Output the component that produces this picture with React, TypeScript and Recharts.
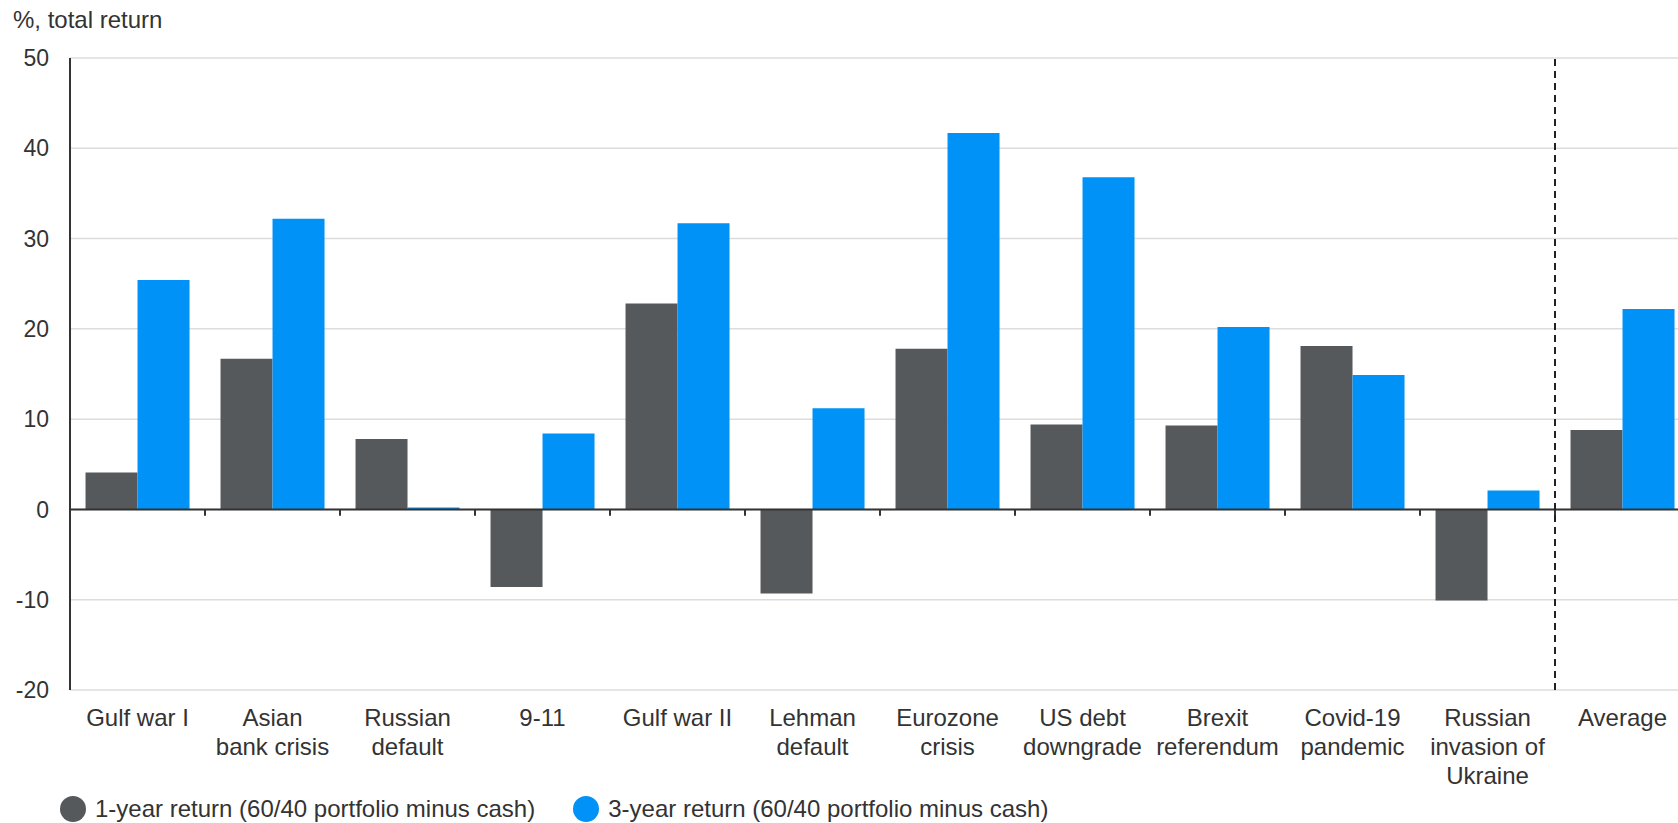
import { BarChart, Bar, XAxis, YAxis, CartesianGrid, ReferenceLine, Legend } from 'recharts';

const FONT = '"Liberation Sans", Arial, sans-serif';
const GRAY = '#56595c';
const BLUE = '#0092f6';

const categories = [
  'Gulf war I',
  'Asian\nbank crisis',
  'Russian\ndefault',
  '9-11',
  'Gulf war II',
  'Lehman\ndefault',
  'Eurozone\ncrisis',
  'US debt\ndowngrade',
  'Brexit\nreferendum',
  'Covid-19\npandemic',
  'Russian\ninvasion of\nUkraine',
  'Average',
];
const oneYear = [4.1, 16.7, 7.8, -8.6, 22.8, -9.3, 17.8, 9.4, 9.3, 18.1, -10.1, 8.8];
const threeYear = [25.4, 32.2, 0.2, 8.4, 31.7, 11.2, 41.7, 36.8, 20.2, 14.9, 2.1, 22.2];
const yTicks = [-20, -10, 0, 10, 20, 30, 40, 50];
const seriesNames = ['1-year return (60/40 portfolio minus cash)', '3-year return (60/40 portfolio minus cash)'];

const data = categories.map((name, i) => ({ name, oneYear: oneYear[i], threeYear: threeYear[i] }));

const CategoryTick = (props: any) => {
  const { x, y, payload } = props;
  const lines = String(payload.value).split('\n');
  return (
    <text x={x} y={y} textAnchor="middle" fill="#333" fontSize={24} fontFamily={FONT}>
      {lines.map((line, i) => (
        <tspan key={i} x={x} dy={i === 0 ? 34 : 29}>{line}</tspan>
      ))}
    </text>
  );
};

const LegendContent = (props: any) => {
  const items = props.payload || [];
  return (
    <div style={{ display: 'flex', alignItems: 'flex-end', height: 30, fontFamily: FONT, fontSize: 24, color: '#333' }}>
      {items.map((item: any, i: number) => (
        <div key={i} style={{ display: 'flex', alignItems: 'center', marginRight: 38 }}>
          <span style={{ width: 26, height: 26, borderRadius: 13, background: item.color, marginRight: 9 }} />
          <span>{item.value}</span>
        </div>
      ))}
    </div>
  );
};

export default function App() {
  return (
    <div style={{ position: 'absolute', left: 0, top: 0, width: 1678, height: 823, overflow: 'hidden', background: '#fff' }}>
      <div style={{ position: 'absolute', left: 13, top: 6, fontFamily: FONT, fontSize: 24, lineHeight: '27px', color: '#333' }}>
        %, total return
      </div>
      <BarChart
        width={1700}
        height={823}
        data={data}
        margin={{ top: 58, right: 10, left: 0, bottom: 0 }}
        barCategoryGap="11.5%"
        barGap={0}
      >
        <CartesianGrid vertical={false} stroke="#dcdcdc" strokeWidth={1.5} />
        <XAxis
          dataKey="name"
          interval={0}
          axisLine={false}
          tickLine={false}
          tickSize={0}
          height={103}
          tick={<CategoryTick />}
        />
        <YAxis
          domain={[-20, 50]}
          ticks={yTicks}
          interval={0}
          width={70}
          tickLine={false}
          tickSize={0}
          tickMargin={21}
          axisLine={{ stroke: '#333', strokeWidth: 2 }}
          tick={{ fill: '#333', fontSize: 23, fontFamily: FONT }}
        />
        <Legend
          verticalAlign="bottom"
          align="left"
          content={<LegendContent />}
          wrapperStyle={{ left: 60, width: 1300 }}
        />
        <Bar dataKey="oneYear" name={seriesNames[0]} fill={GRAY} isAnimationActive={false} />
        <Bar dataKey="threeYear" name={seriesNames[1]} fill={BLUE} isAnimationActive={false} />
        <ReferenceLine y={0} stroke="#333" strokeWidth={2} />
        {categories.slice(1).map((c) => (
          <ReferenceLine
            key={c}
            position="start"
            segment={[{ x: c, y: 0 }, { x: c, y: -0.7 }]}
            stroke="#333"
            strokeWidth={2}
          />
        ))}
        <ReferenceLine x="Average" position="start" stroke="#222" strokeWidth={2} strokeDasharray="7 5" />
      </BarChart>
    </div>
  );
}
